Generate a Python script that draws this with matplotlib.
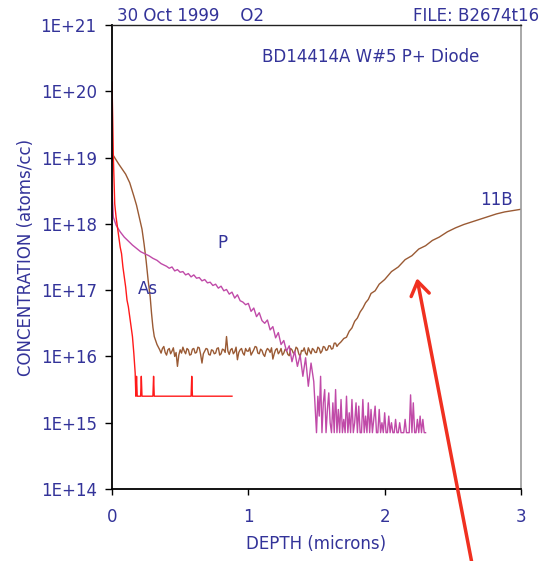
import numpy as np
import matplotlib
matplotlib.use("Agg")
import matplotlib.pyplot as plt
from matplotlib.ticker import FixedLocator, FuncFormatter, NullLocator

# ---------------- data (log10 of concentration) ----------------
# 11B: leading edge, noisy plateau (sampled every 0.01 um from 0.36), rising tail
b11_head_depth = [0.00, 0.01, 0.05, 0.10, 0.13, 0.16, 0.18, 0.20, 0.22, 0.235, 0.25, 0.265, 0.28, 0.29, 0.30, 0.31, 0.33, 0.35]
b11_head_log = [18.95, 19.03, 18.90, 18.75, 18.62, 18.42, 18.28, 18.10, 17.92, 17.70, 17.45, 17.15, 16.90, 16.65, 16.44, 16.30, 16.18, 16.10]
b11_flat_start, b11_flat_step = 0.36, 0.01
b11_flat_log = [16.05, 16.12, 16.15, 16.06, 16.02, 16.10, 16.12, 16.04, 16.08, 16.13,
                16.00, 16.06, 15.85, 16.02, 16.10, 16.05, 16.14, 16.08, 16.04, 16.12,
                16.10, 16.02, 16.03, 16.11, 16.12, 16.05, 16.06, 16.14, 16.13, 16.03,
                15.90, 16.04, 16.08, 16.12, 16.11, 16.03, 16.02, 16.10, 16.09, 16.04,
                16.05, 16.12, 16.13, 16.02, 16.04, 16.11, 16.10, 16.06, 16.30, 16.08,
                16.03, 16.10, 16.12, 16.04, 16.07, 16.14, 15.95, 16.06, 16.10, 16.12,
                16.05, 16.02, 16.12, 16.08, 16.08, 16.13, 16.02, 16.06, 16.10, 16.15,
                16.14, 16.05, 16.04, 16.11, 16.09, 16.03, 16.00, 16.08, 16.12, 16.10,
                16.06, 16.13, 15.96, 16.04, 16.10, 16.12, 16.04, 16.07, 16.12, 16.02,
                16.05, 16.11, 16.09, 16.03, 16.01, 16.12, 16.10, 16.05, 16.06, 16.14,
                16.12, 16.04, 16.00, 16.09, 16.08, 16.13, 16.05, 16.02, 16.13, 16.08,
                16.04, 16.12, 16.10, 16.06, 16.06, 16.14, 16.12, 16.05, 16.08, 16.15,
                16.14, 16.09, 16.10, 16.16, 16.16, 16.11, 16.12, 16.20, 16.20, 16.15, 16.18]
b11_tail_depth = [1.68, 1.70, 1.72, 1.74, 1.76, 1.78, 1.80, 1.82, 1.84, 1.86, 1.88, 1.90, 1.93, 1.96, 2.00, 2.05, 2.10, 2.15,
                  2.20, 2.25, 2.30, 2.35, 2.40, 2.46, 2.52, 2.58, 2.64, 2.70, 2.76, 2.82, 2.88, 2.94, 3.00]
b11_tail_log = [16.22, 16.27, 16.29, 16.38, 16.43, 16.53, 16.58, 16.67, 16.73, 16.81, 16.86, 16.95, 16.99, 17.09, 17.16, 17.28, 17.35, 17.46,
                17.52, 17.62, 17.67, 17.75, 17.80, 17.88, 17.94, 17.99, 18.03, 18.07, 18.11, 18.15, 18.18, 18.20, 18.22]

# P: leading edge, slope (every 0.02 um from 0.40), noisy floor (every 0.01 um from 1.50)
p_head_depth = [0.00, 0.01, 0.03, 0.06, 0.09, 0.12, 0.15, 0.18, 0.21, 0.24, 0.27, 0.30, 0.33, 0.36]
p_head_log = [18.50, 18.10, 17.98, 17.88, 17.80, 17.74, 17.68, 17.63, 17.58, 17.55, 17.52, 17.48, 17.45, 17.40]
p_mid_start, p_mid_step = 0.40, 0.02
p_mid_log = [17.36, 17.33, 17.35, 17.29, 17.31, 17.27, 17.28, 17.23, 17.25, 17.20,
             17.23, 17.18, 17.19, 17.14, 17.16, 17.11, 17.12, 17.07, 17.09, 17.03,
             17.06, 16.99, 17.01, 16.94, 16.97, 16.88, 16.93, 16.84, 16.82, 16.78,
             16.80, 16.68, 16.73, 16.60, 16.66, 16.54, 16.50, 16.55, 16.40, 16.45,
             16.28, 16.36, 16.18, 16.24, 16.08, 16.16, 15.92, 16.08, 15.85, 16.02,
             15.70, 15.98, 15.55, 15.90, 15.62]
p_tail_start, p_tail_step = 1.50, 0.01
p_tail_log = [14.85, 15.40, 15.10, 15.70, 14.85, 15.30, 15.50, 14.85, 15.20, 15.45,
              15.00, 14.85, 15.30, 14.85, 15.50, 14.85, 15.20, 14.85, 15.35, 14.85,
              15.05, 14.85, 15.40, 14.85, 15.15, 14.85, 15.35, 14.85, 15.00, 15.30,
              14.85, 15.25, 14.85, 14.85, 15.35, 14.85, 15.10, 14.85, 15.30, 14.85,
              15.20, 14.85, 15.05, 15.25, 14.85, 14.85, 15.20, 14.85, 15.00, 14.85,
              15.15, 14.85, 14.85, 15.10, 14.85, 15.00, 14.85, 14.85, 15.05, 14.85,
              14.85, 15.00, 14.85, 14.85, 14.85, 15.05, 14.85, 14.85, 14.85, 15.42,
              14.85, 15.30, 14.85, 14.85, 15.05, 14.85, 15.10, 14.85, 15.05, 14.85, 14.85]

as_depth = [0.000, 0.005, 0.01, 0.02, 0.03, 0.04, 0.05, 0.06, 0.07, 0.08, 0.09, 0.10, 0.11, 0.12, 0.13, 0.14, 0.15, 0.16,
            0.17, 0.175, 0.18, 0.185, 0.21, 0.215, 0.22, 0.30, 0.305, 0.31, 0.58, 0.585, 0.59, 0.88]
as_log = [20.14, 19.60, 19.00, 18.30, 18.10, 17.95, 17.80, 17.65, 17.55, 17.35, 17.20, 17.05, 16.85, 16.75, 16.60, 16.45, 16.30, 16.05,
          15.75, 15.40, 15.70, 15.40, 15.40, 15.70, 15.40, 15.40, 15.70, 15.40, 15.40, 15.70, 15.40, 15.40]

ytick_vals = [1e14, 1e15, 1e16, 1e17, 1e18, 1e19, 1e20, 1e21]
xtick_vals = [0, 1, 2, 3]


def grid(start, step, n):
    return start + step * np.arange(n)


b11_depth = np.concatenate([b11_head_depth, grid(b11_flat_start, b11_flat_step, len(b11_flat_log)), b11_tail_depth])
b11_log = np.concatenate([b11_head_log, b11_flat_log, b11_tail_log])
p_depth = np.concatenate([p_head_depth, grid(p_mid_start, p_mid_step, len(p_mid_log)),
                          grid(p_tail_start, p_tail_step, len(p_tail_log))])
p_log = np.concatenate([p_head_log, p_mid_log, p_tail_log])

# ---------------- style ----------------
TXT = "#333399"
C_B = "#9a5a34"
C_P = "#c04aa8"
C_AS = "#ff1a1a"

plt.rcParams['font.family'] = ['DejaVu Sans']

W, H = 548, 561
fig = plt.figure(figsize=(W / 100, H / 100), dpi=100)
ax = fig.add_axes([112 / W, 1 - 489 / H, (521 - 112) / W, (489 - 25) / H])

ax.plot(b11_depth, 10 ** b11_log, color=C_B, lw=1.0)
ax.plot(p_depth, 10 ** p_log, color=C_P, lw=1.0)
ax.plot(as_depth, 10 ** np.array(as_log), color=C_AS, lw=1.0)

ax.set_yscale('log')
ax.set_xlim(0, 3)
ax.set_ylim(1e14, 1e21)
ax.yaxis.set_major_locator(FixedLocator(ytick_vals))
ax.yaxis.set_minor_locator(NullLocator())
ax.yaxis.set_major_formatter(FuncFormatter(lambda v, p: "1E+%d" % int(round(np.log10(v)))))
ax.xaxis.set_major_locator(FixedLocator(xtick_vals))
ax.xaxis.set_major_formatter(FuncFormatter(lambda v, p: "%d" % v))

ax.tick_params(axis='both', direction='out', colors='black', labelcolor=TXT, labelsize=12)
ax.tick_params(axis='y', length=5, width=1, pad=6)
ax.tick_params(axis='x', length=4, width=1, pad=10)

for s in ['left', 'bottom']:
    ax.spines[s].set_color('black')
    ax.spines[s].set_linewidth(1.3)
ax.spines['top'].set_color('#222222')
ax.spines['top'].set_linewidth(1.0)
ax.spines['right'].set_color('#999999')
ax.spines['right'].set_linewidth(1.2)

ax.set_xlabel("DEPTH (microns)", color=TXT, fontsize=12, labelpad=6)
ax.set_ylabel("CONCENTRATION (atoms/cc)", color=TXT, fontsize=12, labelpad=4)

fig.text(117 / W, 1 - 16 / H, "30 Oct 1999    O2", color=TXT, fontsize=12, ha='left', va='center')
fig.text(413 / W, 1 - 16 / H, "FILE: B2674t16", color=TXT, fontsize=12, ha='left', va='center')
fig.text(371 / W, 1 - 57 / H, "BD14414A W#5 P+ Diode", color=TXT, fontsize=12, ha='center', va='center')

ax.text(2.82, 10 ** 18.36, "11B", color=TXT, fontsize=12, ha='center', va='center')
ax.text(0.81, 10 ** 17.71, "P", color=TXT, fontsize=12, ha='center', va='center')
ax.text(0.26, 10 ** 17.02, "As", color=TXT, fontsize=12, ha='center', va='center')

ax.annotate("", xy=(2.237, 10 ** 17.18), xytext=(2.64, 10 ** 12.88),
            arrowprops=dict(arrowstyle='->, head_length=0.45, head_width=0.3', color='#f03020', lw=2.5,
                            mutation_scale=22, shrinkA=0, shrinkB=0),
            annotation_clip=False)

fig.savefig("out.png", dpi=100)
